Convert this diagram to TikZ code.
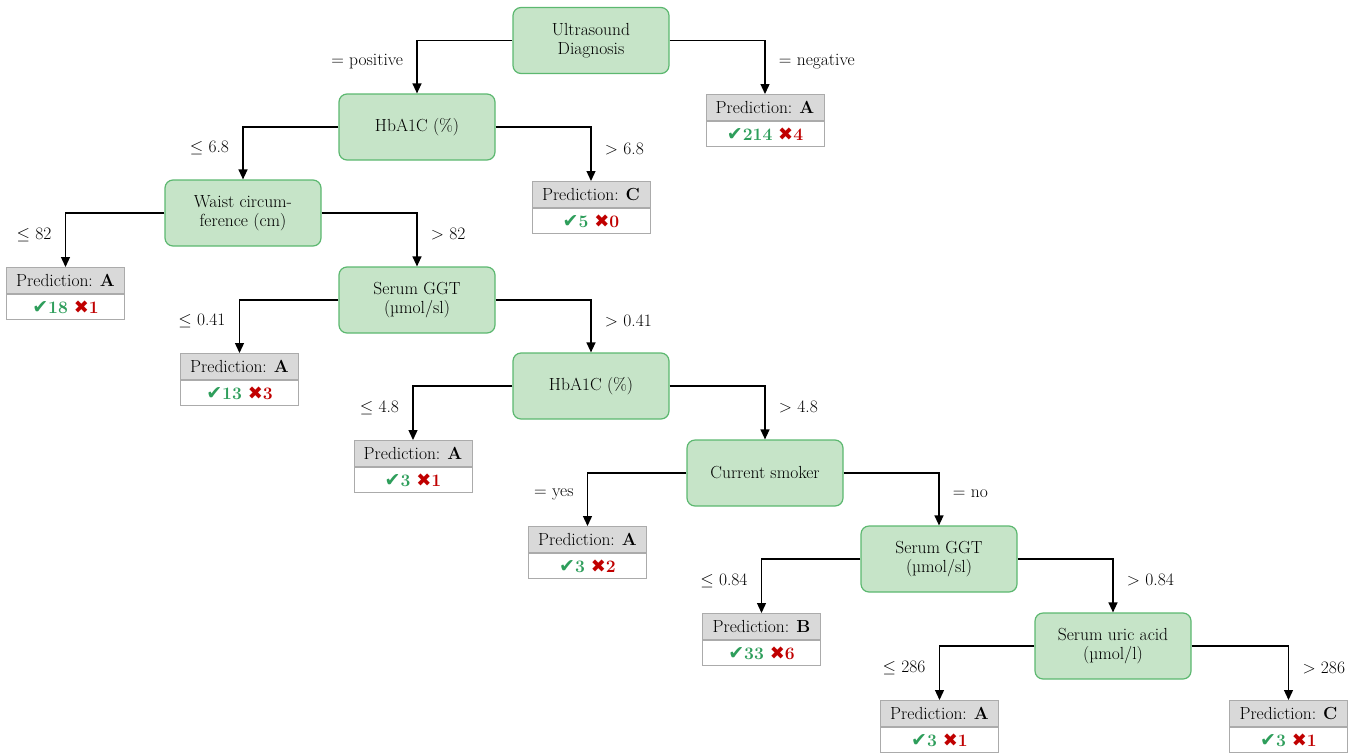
\documentclass[tikz,border=0pt]{standalone}
\usepackage{fontspec}
\newfontfamily\symfont{DejaVu Sans}
\usetikzlibrary{arrows.meta}
\definecolor{nodefill}{HTML}{C6E4C8}
\definecolor{nodeborder}{HTML}{5CB870}
\definecolor{leafhead}{HTML}{D9D9D9}
\definecolor{leafline}{HTML}{ABABAB}
\definecolor{okgreen}{HTML}{2E9E5B}
\definecolor{badred}{HTML}{C00000}
\newcommand{\txtfont}{\fontsize{17.5}{19.5}\selectfont}
\newcommand{\res}[2]{\textcolor{okgreen}{{\symfont\fontsize{19}{19}\selectfont ✔}\textbf{#1}}\,\,\textcolor{badred}{{\symfont\fontsize{18}{19}\selectfont ✖}\textbf{#2}}}
\tikzset{
  dec/.style={draw=nodeborder, fill=nodefill, line width=1.2pt, rounded corners=8pt,
    minimum width=156pt, minimum height=66pt, align=center, font=\txtfont},
  lhead/.style={draw=leafline, fill=leafhead, line width=1pt, minimum width=118pt,
    minimum height=26pt, anchor=north, font=\txtfont, inner sep=0pt},
  lbody/.style={draw=leafline, fill=white, line width=1pt, minimum width=118pt,
    minimum height=25pt, anchor=north, font=\txtfont, inner sep=0pt},
  edge/.style={-{Triangle[width=9pt,length=10pt]}, line width=1.3pt},
  ll/.style={pos=0.7, left=10pt, font=\txtfont},
  rl/.style={pos=0.7, right=10pt, font=\txtfont}
}
\begin{document}
\begin{tikzpicture}[x=1pt,y=-1pt]
\useasboundingbox (0,0) rectangle (1362,753);
% decision nodes
\node[dec] (n1) at (591,40.5) {Ultrasound\\Diagnosis};
\node[dec] (n2) at (417,127) {HbA1C (\%)};
\node[dec] (n3) at (243,213) {Waist circum-\\ference (cm)};
\node[dec] (n4) at (417,300) {Serum GGT\\(µmol/sl)};
\node[dec] (n5) at (591,386) {HbA1C (\%)};
\node[dec] (n6) at (765,473) {Current smoker};
\node[dec] (n7) at (939,559) {Serum GGT\\(µmol/sl)};
\node[dec] (n8) at (1113,646) {Serum uric acid\\(µmol/l)};
% leaves
\node[lhead] (l1) at (765,94) {Prediction: \textbf{A}};
\node[lbody] (l1b) at (l1.south) {\res{214}{4}};
\node[lhead] (l2) at (591,181) {Prediction: \textbf{C}};
\node[lbody] (l2b) at (l2.south) {\res{5}{0}};
\node[lhead] (l3) at (65.5,267) {Prediction: \textbf{A}};
\node[lbody] (l3b) at (l3.south) {\res{18}{1}};
\node[lhead] (l4) at (239.5,353) {Prediction: \textbf{A}};
\node[lbody] (l4b) at (l4.south) {\res{13}{3}};
\node[lhead] (l5) at (413,440) {Prediction: \textbf{A}};
\node[lbody] (l5b) at (l5.south) {\res{3}{1}};
\node[lhead] (l6) at (587.5,526) {Prediction: \textbf{A}};
\node[lbody] (l6b) at (l6.south) {\res{3}{2}};
\node[lhead] (l7) at (761.5,613) {Prediction: \textbf{B}};
\node[lbody] (l7b) at (l7.south) {\res{33}{6}};
\node[lhead] (l8) at (939.5,700) {Prediction: \textbf{A}};
\node[lbody] (l8b) at (l8.south) {\res{3}{1}};
\node[lhead] (l9) at (1288.5,700) {Prediction: \textbf{C}};
\node[lbody] (l9b) at (l9.south) {\res{3}{1}};
% edges
\draw[edge] (n1.west) -| node[ll]{= positive} (n2.north);
\draw[edge] (n1.east) -| node[rl]{= negative} (l1.north);
\draw[edge] (n2.west) -| node[ll]{$\leq$ 6.8} (n3.north);
\draw[edge] (n2.east) -| node[rl]{$>$ 6.8} (l2.north);
\draw[edge] (n3.west) -| node[ll]{$\leq$ 82} (l3.north);
\draw[edge] (n3.east) -| node[rl]{$>$ 82} (n4.north);
\draw[edge] (n4.west) -| node[ll]{$\leq$ 0.41} (l4.north);
\draw[edge] (n4.east) -| node[rl]{$>$ 0.41} (n5.north);
\draw[edge] (n5.west) -| node[ll]{$\leq$ 4.8} (l5.north);
\draw[edge] (n5.east) -| node[rl]{$>$ 4.8} (n6.north);
\draw[edge] (n6.west) -| node[ll]{= yes} (l6.north);
\draw[edge] (n6.east) -| node[rl]{= no} (n7.north);
\draw[edge] (n7.west) -| node[ll]{$\leq$ 0.84} (l7.north);
\draw[edge] (n7.east) -| node[rl]{$>$ 0.84} (n8.north);
\draw[edge] (n8.west) -| node[ll]{$\leq$ 286} (l8.north);
\draw[edge] (n8.east) -| node[rl]{$>$ 286} (l9.north);
\end{tikzpicture}
\end{document}
